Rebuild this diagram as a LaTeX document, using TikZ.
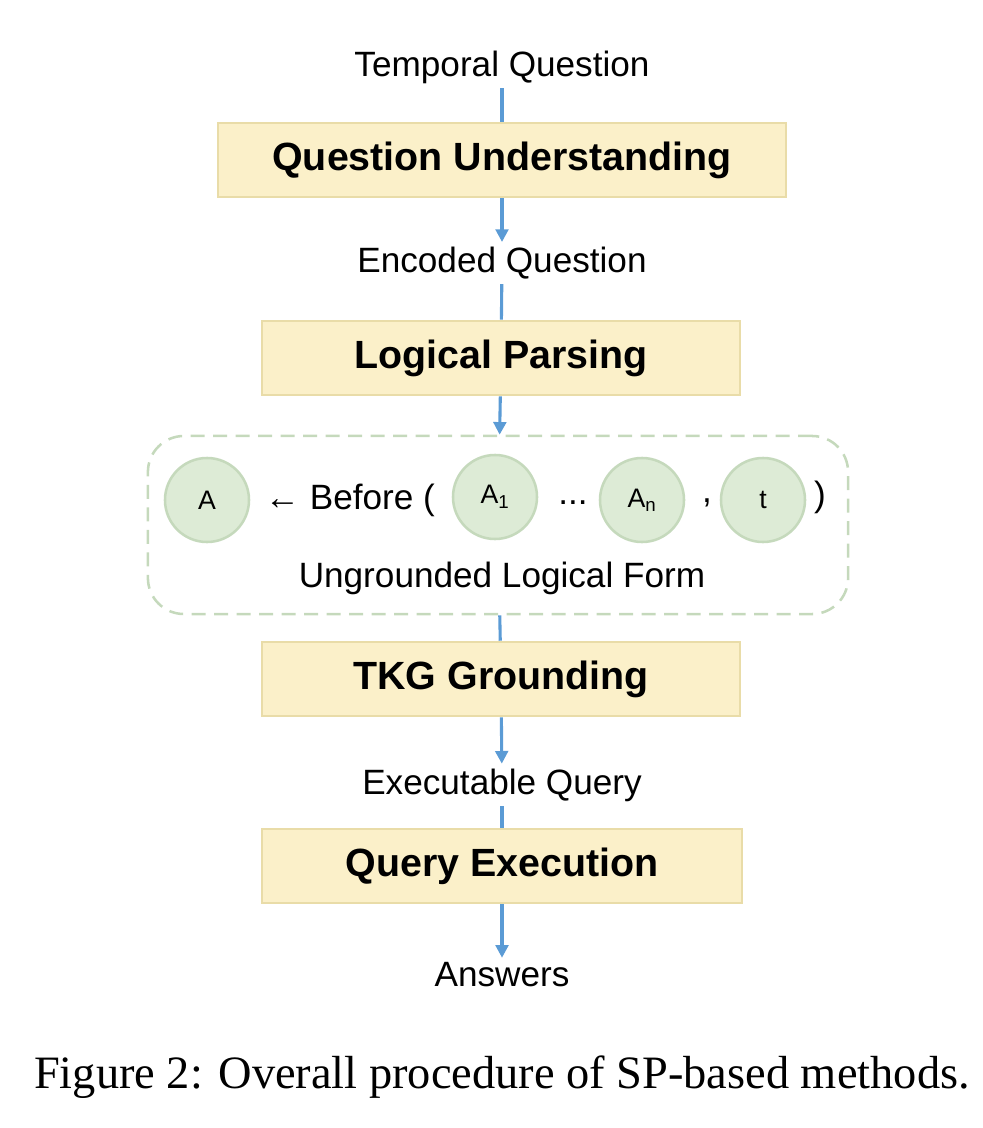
\documentclass[tikz,border=0pt]{standalone}
\usepackage{fontspec}
\setmainfont{Liberation Serif}
\setsansfont{Liberation Sans}
\usetikzlibrary{positioning,arrows.meta}
\definecolor{boxfill}{HTML}{FBF0C9}
\definecolor{boxline}{HTML}{E9DCA8}
\definecolor{entfill}{HTML}{DDEBD6}
\definecolor{entline}{HTML}{C5D9BC}
\definecolor{flow}{HTML}{5B9BD5}
\begin{document}
\begin{tikzpicture}[x=0.025cm,y=-0.025cm]
  \tikzset{stage/.style={draw=boxline,line width=1.8pt,fill=boxfill,minimum height=1.85cm,font=\sffamily\bfseries\fontsize{28}{32}\selectfont},
    label/.style={font=\sffamily\fontsize{25}{29}\selectfont},
    entity/.style={circle,draw=entline,line width=1.8pt,fill=entfill,minimum size=2.1cm,inner sep=0pt,font=\sffamily\fontsize{19}{21}\selectfont},
    link/.style={flow,line width=2.2pt},
    flowto/.style={link,-{Triangle[length=9pt,width=9pt]}}}
  \useasboundingbox (0,0) rectangle (982,1128);

  \node[label] (tq) at (502,67) {Temporal Question};
  \node[stage,minimum width=14.2cm] (qu) at (502,160) {Question Understanding};
  \node[label] (eq) at (502,263) {Encoded Question};
  \node[stage,minimum width=11.95cm] (lp) at (501,358) {Logical Parsing};
  \node[draw=entline,dash pattern=on 10pt off 6pt,line width=1.8pt,rounded corners=0.9cm,minimum width=17.5cm,minimum height=4.45cm] (ulf) at (498,525) {};
  \node[entity] (a) at (207,500) {A};
  \node[label,anchor=west] (before) at (260,500) {← Before (};
  \node[entity] (a1) at (495,497) {A\textsubscript{1}};
  \node[label] (dots) at (573,503) {...};
  \node[entity] (an) at (642,500) {A\textsubscript{n}};
  \node[label] (comma) at (707,503) {,};
  \node[entity] (t) at (763,500) {t};
  \node[label] (close) at (820,497) {)};
  \node[label] (ulft) at (502,578) {Ungrounded Logical Form};
  \node[stage,minimum width=11.95cm] (tg) at (501,679) {TKG Grounding};
  \node[label] (xq) at (502,785) {Executable Query};
  \node[stage,minimum width=12cm] (qe) at (502,866) {Query Execution};
  \node[label] (ans) at (502,975) {Answers};
  \node[font=\fontsize{33}{37}\selectfont] (cap) at (502,1077) {Figure 2: Overall procedure of SP-based methods.};

  \draw[link] (tq) -- (qu);
  \draw[flowto] (qu) -- (eq);
  \draw[link] (eq) -- (lp);
  \draw[flowto] (lp) -- (ulf);
  \draw[link] (ulf) -- (tg);
  \draw[flowto] (tg) -- (xq);
  \draw[link] (xq) -- (qe);
  \draw[flowto] (qe) -- (ans);
\end{tikzpicture}
\end{document}
